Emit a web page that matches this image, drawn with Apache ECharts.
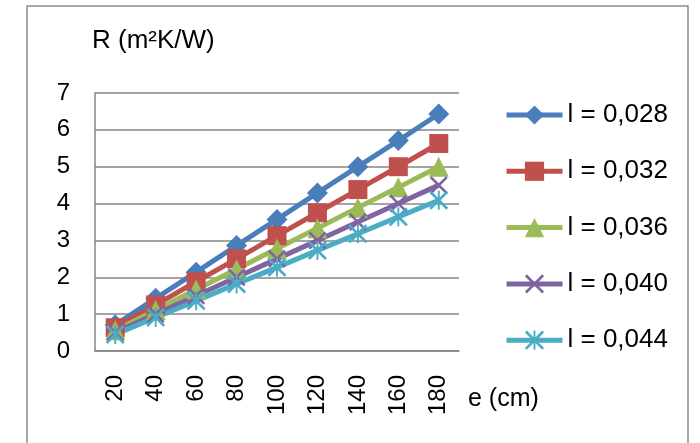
<!DOCTYPE html>
<html>
<head>
<meta charset="utf-8">
<script src="https://cdn.jsdelivr.net/npm/echarts@6/dist/echarts.min.js"></script>
<style>
  html, body { margin: 0; padding: 0; background: #fff; }
  #chart { width: 700px; height: 443px; }
</style>
</head>
<body>
<div id="chart"></div>
<script>
// Thickness e (cm)
const thickness = ['20', '40', '60', '80', '100', '120', '140', '160', '180'];

// Thermal resistance R (m²K/W) for each conductivity
const r028 = [0.71, 1.43, 2.14, 2.86, 3.57, 4.29, 5.00, 5.71, 6.43];
const r032 = [0.63, 1.25, 1.88, 2.50, 3.13, 3.75, 4.38, 5.00, 5.63];
const r036 = [0.56, 1.11, 1.67, 2.22, 2.78, 3.33, 3.89, 4.44, 5.00];
const r040 = [0.50, 1.00, 1.50, 2.00, 2.50, 3.00, 3.50, 4.00, 4.50];
const r044 = [0.45, 0.91, 1.36, 1.82, 2.27, 2.73, 3.18, 3.64, 4.09];

const seriesNames = ['l = 0,028', 'l = 0,032', 'l = 0,036', 'l = 0,040', 'l = 0,044'];
const yTicks = [0, 1, 2, 3, 4, 5, 6, 7];

const FONT = '"Liberation Sans", Arial, sans-serif';
const colors = ['#4A7EBB', '#C0504D', '#9BBB59', '#8064A2', '#4BACC6'];

// X-shaped and asterisk-shaped markers as filled outlines
const crossPath = 'path://M0,2L2,0L10,8L18,0L20,2L12,10L20,18L18,20L10,12L2,20L0,18L8,10Z';
const starPath = 'path://M0,2L2,0L9,7L9,0L11,0L11,7L18,0L20,2L12,10L20,18L18,20L11,13L11,20L9,20L9,13L2,20L0,18L8,10Z';

const symbols = ['diamond', 'rect', 'triangle', crossPath, starPath];
const symbolSizes = [21, 19, 20, 18, 19];
const values = [r028, r032, r036, r040, r044];

const chart = echarts.init(document.getElementById('chart'), null, { renderer: 'canvas' });

chart.setOption({
  animation: false,
  backgroundColor: '#ffffff',
  color: colors,
  graphic: [{
    type: 'rect',
    shape: { x: 27, y: 6, width: 661, height: 460 },
    style: { fill: 'none', stroke: '#8c8c8c', lineWidth: 1.5 },
    silent: true
  }],
  title: [
    { text: 'R (m²K/W)', left: 87, top: 23,
      textStyle: { fontFamily: FONT, fontSize: 26, fontWeight: 'normal', color: '#000' } },
    { text: 'e (cm)', left: 463, top: 382,
      textStyle: { fontFamily: FONT, fontSize: 25, fontWeight: 'normal', color: '#000' } }
  ],
  legend: {
    orient: 'vertical',
    left: 499,
    top: 97,
    itemWidth: 56,
    itemHeight: 24,
    itemGap: 30.3,
    lineStyle: { width: 5 },
    textStyle: { fontFamily: FONT, fontSize: 26, color: '#000' },
    data: seriesNames
  },
  grid: { left: 95, top: 93, right: 241, bottom: 92, containLabel: false },
  xAxis: {
    type: 'category',
    data: thickness,
    boundaryGap: true,
    axisLine: { lineStyle: { color: '#868686', width: 1.5 } },
    axisTick: { show: false },
    axisLabel: { rotate: 90, margin: 24, fontFamily: FONT, fontSize: 24, color: '#000' }
  },
  yAxis: {
    type: 'value',
    min: yTicks[0],
    max: yTicks[yTicks.length - 1],
    interval: 1,
    axisLine: { show: true, lineStyle: { color: '#868686', width: 1.5 } },
    axisTick: { show: false },
    splitLine: { lineStyle: { color: '#868686', width: 1.5 } },
    axisLabel: { margin: 25, fontFamily: FONT, fontSize: 24, color: '#000' }
  },
  series: seriesNames.map((name, i) => ({
    name: name,
    type: 'line',
    data: values[i],
    symbol: symbols[i],
    symbolSize: symbolSizes[i],
    showAllSymbol: true,
    lineStyle: { width: 5, color: colors[i] },
    itemStyle: { color: colors[i], borderWidth: 0 }
  }))
});
</script>
</body>
</html>
